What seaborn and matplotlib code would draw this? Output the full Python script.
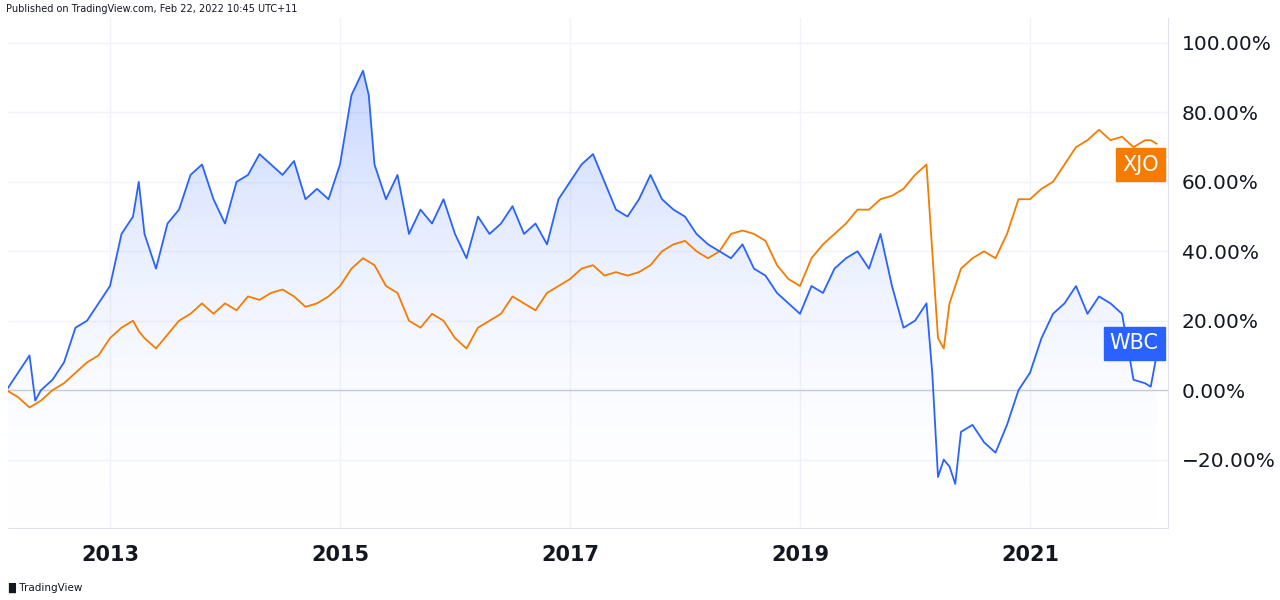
import numpy as np
import pandas as pd
import matplotlib
matplotlib.use("Agg")
import matplotlib.pyplot as plt
import seaborn as sns
from matplotlib.patches import Polygon

years = [2012.1,2012.2,2012.3,2012.35,2012.4,2012.5,2012.6,2012.7,2012.8,2012.9,2013.0,2013.1,2013.2,2013.25,2013.3,2013.4,2013.5,2013.6,2013.7,2013.8,2013.9,2014.0,2014.1,2014.2,2014.3,2014.4,2014.5,2014.6,2014.7,2014.8,2014.9,2015.0,2015.1,2015.2,2015.25,2015.3,2015.4,2015.5,2015.6,2015.7,2015.8,2015.9,2016.0,2016.1,2016.2,2016.3,2016.4,2016.5,2016.6,2016.7,2016.8,2016.9,2017.0,2017.1,2017.2,2017.3,2017.4,2017.5,2017.6,2017.7,2017.8,2017.9,2018.0,2018.1,2018.2,2018.3,2018.4,2018.5,2018.6,2018.7,2018.8,2018.9,2019.0,2019.1,2019.2,2019.3,2019.4,2019.5,2019.6,2019.7,2019.8,2019.9,2020.0,2020.1,2020.15,2020.2,2020.25,2020.3,2020.35,2020.4,2020.5,2020.6,2020.7,2020.8,2020.9,2021.0,2021.1,2021.2,2021.3,2021.4,2021.5,2021.6,2021.7,2021.8,2021.9,2022.0,2022.05,2022.1]
wbc = [0,5,10,-3,0,3,8,18,20,25,30,45,50,60,45,35,48,52,62,65,55,48,60,62,68,65,62,66,55,58,55,65,85,92,85,65,55,62,45,52,48,55,45,38,50,45,48,53,45,48,42,55,60,65,68,60,52,50,55,62,55,52,50,45,42,40,38,42,35,33,28,25,22,30,28,35,38,40,35,45,30,18,20,25,5,-25,-20,-22,-27,-12,-10,-15,-18,-10,0,5,15,22,25,30,22,27,25,22,3,2,1,10]
xjo = [0,-2,-5,-4,-3,0,2,5,8,10,15,18,20,17,15,12,16,20,22,25,22,25,23,27,26,28,29,27,24,25,27,30,35,38,37,36,30,28,20,18,22,20,15,12,18,20,22,27,25,23,28,30,32,35,36,33,34,33,34,36,40,42,43,40,38,40,45,46,45,43,36,32,30,38,42,45,48,52,52,55,56,58,62,65,40,15,12,25,30,35,38,40,38,45,55,55,58,60,65,70,72,75,72,73,70,72,72,71]
yticks = [-20,0,20,40,60,80,100]
xticks = [2013,2015,2017,2019,2021]

BLUE = "#2962ff"; ORANGE = "#f57c00"
df = pd.DataFrame({"year": years*2, "val": wbc+xjo, "s": ["WBC"]*len(years)+["XJO"]*len(years)})

fig = plt.figure(figsize=(12.8, 6), dpi=100)
ax = fig.add_axes([8/1280, 72/600, 1160/1280, 510/600])
x0, x1 = 2012.113, 2022.2
y0, y1 = -39.7, 107.2
ax.set_xlim(x0, x1); ax.set_ylim(y0, y1)

grad = np.linspace(0, 1, 256).reshape(-1, 1)
cmap = matplotlib.colors.LinearSegmentedColormap.from_list("g", [(1,1,1,0.0), (0.16,0.38,1,0.28)])
im = ax.imshow(grad, extent=[x0, x1, y0, 95], origin="lower", aspect="auto", cmap=cmap, zorder=1)
poly = Polygon(list(zip(years, wbc)) + [(years[-1], y0), (years[0], y0)], transform=ax.transData, facecolor="none", edgecolor="none")
ax.add_patch(poly); im.set_clip_path(poly)

ax.axhline(0, color="#c8ccd6", lw=1, zorder=1.5)
sns.lineplot(data=df, x="year", y="val", hue="s", palette={"WBC": BLUE, "XJO": ORANGE},
             hue_order=["XJO", "WBC"], lw=1.3, legend=False, ax=ax, zorder=3)

ax.set_yticks(yticks); ax.set_xticks(xticks)
ax.grid(True, color="#f0f3fa", lw=1); ax.set_axisbelow(True)
ax.tick_params(axis="x", length=0, labelsize=15, pad=12, labelcolor="#131722")
ax.tick_params(axis="y", length=0, labelsize=14.5, labelcolor="#131722", pad=10)
ax.yaxis.tick_right()
ax.set_xticklabels([str(t) for t in xticks], fontweight="bold")
ax.set_yticklabels([("\u2212%.2f%%" % abs(v)) if v < 0 else "%.2f%%" % v for v in yticks])
ax.set_xlabel(""); ax.set_ylabel("")
for s in ax.spines.values(): s.set_color("#e0e3eb")
ax.spines["left"].set_visible(False); ax.spines["top"].set_visible(False)

for name, val, col in [("XJO", 65, ORANGE), ("WBC", 13.5, BLUE)]:
    ax.text(x1 - 0.08, val, name, color="white", fontsize=15, ha="right", va="center",
            bbox=dict(boxstyle="square,pad=0.3", fc=col, ec=col), zorder=5)

fig.text(6/1280, 1 - 9/600, "Published on TradingView.com, Feb 22, 2022 10:45 UTC+11", fontsize=7, va="center", color="#131722")
fig.text(8/1280, 1 - 588/600, "\u2589 TradingView", fontsize=7.5, va="center", color="#131722")
fig.savefig("out.png", dpi=100, facecolor="white")
